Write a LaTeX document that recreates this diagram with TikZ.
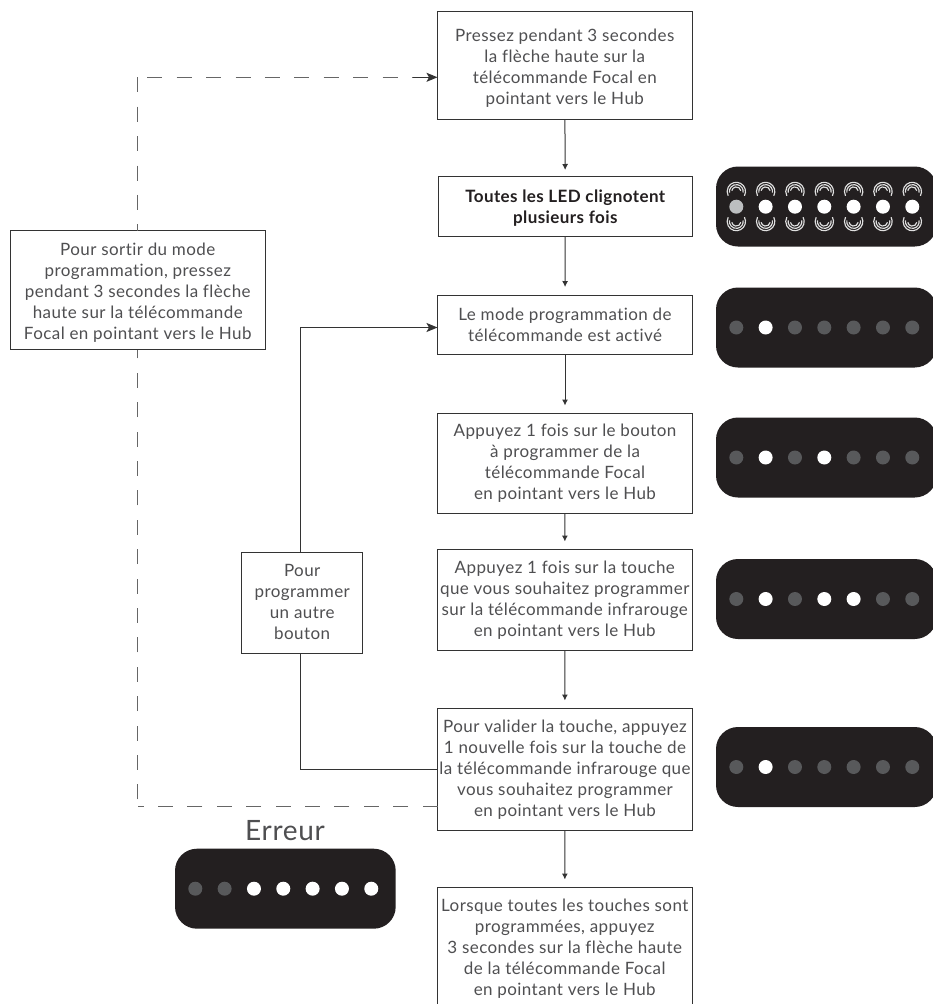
\documentclass[tikz,border=0pt]{standalone}
\usepackage{fontspec}
\setmainfont{Lato}[LetterSpace=2.5,Ligatures=NoCommon]
\usetikzlibrary{arrows.meta}
\definecolor{dev}{HTML}{231F20}
\definecolor{ledoff}{HTML}{58595B}
\definecolor{ledmid}{HTML}{BCBEC0}
\definecolor{txt}{HTML}{4F4F51}
\definecolor{edge}{HTML}{333333}
\tikzset{
 x=1pt,y=-1pt,
 box/.style={draw=edge,line width=1pt,fill=white,inner sep=0pt,outer sep=0pt,align=center,text=txt,font=\fontsize{17}{21}\selectfont},
 flow/.style={draw=edge,line width=1pt,-{Latex[length=6pt,width=6pt]},shorten >=8pt},
 link/.style={draw=edge,line width=1pt},
 dashline/.style={draw=edge!75,line width=1.1pt,dash pattern=on 15pt off 14.4pt},
 big/.style={-{Stealth[length=11pt,width=9pt,inset=2.5pt]}},
 device/.style={fill=dev,rounded corners=22pt},
}
\newcommand{\device}[2]{%
 \fill[device] (#1,#2-40) rectangle ++(220.7,80);}
\newcommand{\leds}[3]{% x, y, list of colours
 \foreach \c [count=\i from 0] in {#3}
   \fill[\c] (#1+20.3+29.33*\i,#2) circle[radius=7];}
\newcommand{\lift}[1]{\rule{0pt}{#1pt}}
\begin{document}
\begin{tikzpicture}
\clip (0,0) rectangle (933,1004);
\fill[white] (0,0) rectangle (933,1004);

\node[box,minimum width=255,minimum height=108] (b1) at (564.75,65) {\lift{19}Pressez pendant 3 secondes\\la flèche haute sur la\\télécommande Focal en\\pointant vers le Hub};
\node[box,minimum width=254.5,minimum height=59.5] (b2) at (565.25,206.25) {\lift{16}\textcolor{dev}{\bfseries Toutes les LED clignotent}\\\textcolor{dev}{\bfseries plusieurs fois}};
\node[box,minimum width=255,minimum height=59] (b3) at (565,324.5) {Le mode programmation de\\télécommande est activé};
\node[box,minimum width=255,minimum height=99.5] (b4) at (565,463.25) {Appuyez 1 fois sur le bouton\\à programmer de la\\télécommande Focal\\en pointant vers le Hub};
\node[box,minimum width=254.5,minimum height=100.5] (b5) at (564.75,599.75) {Appuyez 1 fois sur la touche\\que vous souhaitez programmer\\sur la télécommande infrarouge\\en pointant vers le Hub};
\node[box,minimum width=255,minimum height=121.5] (b6) at (565,769.25) {Pour valider la touche, appuyez\\1 nouvelle fois sur la touche de\\la télécommande infrarouge que\\vous souhaitez programmer\\en pointant vers le Hub};
\node[box,minimum width=254.5,minimum height=117.5] (b7) at (564.75,946.25) {\lift{17}Lorsque toutes les touches sont\\programmées, appuyez\\3 secondes sur la flèche haute\\de la télécommande Focal\\en pointant vers le Hub};
\node[box,minimum width=254.5,minimum height=119] (ex) at (137.75,290) {\lift{17}Pour sortir du mode\\programmation, pressez\\pendant 3 secondes la flèche\\haute sur la télécommande\\Focal en pointant vers le Hub};
\node[box,minimum width=121,minimum height=100.5] (po) at (302.2,602.75) {Pour\\programmer\\un autre\\bouton\rule[-2pt]{0pt}{2pt}};
\node[text=txt,font=\fontsize{28}{30}\selectfont,inner sep=0pt] (er) at (285,831) {Erreur};

\draw[flow,shorten >=6.5pt] (b1) -- (b2);
\draw[flow] (b2) -- (b3);
\draw[flow] (b3) -- (b4);
\draw[flow] (b4) -- (b5);
\draw[flow] (b5) -- (b6);
\draw[flow] (b6) -- (b7);

\coordinate (in3) at (437.5,327.5);
\coordinate (c1) at (300.3,769.25);
\coordinate (c2) at (300.3,327.5);
\draw[link] (b6.west) -- (c1) -- (po.south -| c1);
\draw[link,big] (po.north -| c1) -- (c2) -- (in3);

\coordinate (d0) at (437.5,806.7);
\coordinate (d1) at (137.75,806.7);
\coordinate (d2) at (137.75,799.3);
\coordinate (d3) at (137.75,77.3);
\coordinate (d4) at (147.3,77.3);
\coordinate (d5) at (413,77.3);
\coordinate (in1) at (437.5,77.3);
\draw[dashline] (d0) -- (d1);
\draw[dashline] (d2) -- (ex.south);
\draw[dashline] (d3) -- (ex.north);
\draw[dashline] (d4) -- (d5);
\draw[link,big] (d5) -- (in1);

% devices
\device{716}{206.5}
\leds{716}{206.7}{ledmid,white,white,white,white,white,white}
\foreach \i in {0,...,6}{
  \foreach \r/\a in {4.6/-10,6.9/10,9.2/28}{
    \draw[white!88!black,line width=1.15pt] (736.3+29.33*\i,191.5) ++(\a:\r) arc[start angle=\a,end angle=-180-\a,radius=\r];
    \draw[white!88!black,line width=1.15pt] (736.3+29.33*\i,221.5) ++(-\a:\r) arc[start angle=-\a,end angle=180+\a,radius=\r];
  }
}
\device{716}{327.5}
\leds{716}{327.5}{ledoff,white,ledoff,ledoff,ledoff,ledoff,ledoff}
\device{716}{457.5}
\leds{716}{457.5}{ledoff,white,ledoff,white,ledoff,ledoff,ledoff}
\device{716}{599}
\leds{716}{599}{ledoff,white,ledoff,white,white,ledoff,ledoff}
\device{716}{767}
\leds{716}{767}{ledoff,white,ledoff,ledoff,ledoff,ledoff,ledoff}
\device{175}{888.7}
\leds{175}{888.7}{ledoff,ledoff,white,white,white,white,white}
\end{tikzpicture}
\end{document}
